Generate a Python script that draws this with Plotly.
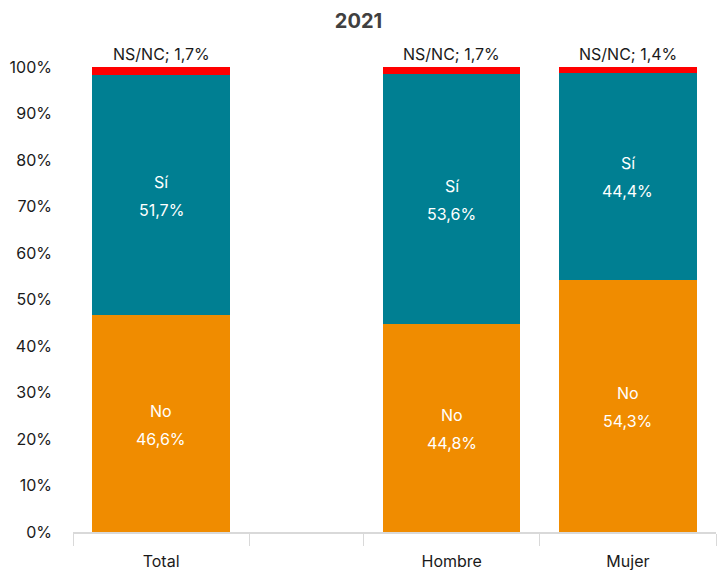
import plotly.graph_objects as go

# category layout: the empty spacer category between Total and Hombre is narrower
categories = ["Total", "Hombre", "Mujer"]
x_centers = [0.5, 2.15, 3.15]
x_bounds = [0, 1, 1.65, 2.65, 3.65]

no_vals = [46.6, 44.8, 54.3]
si_vals = [51.7, 53.6, 44.4]
nsnc_vals = [1.7, 1.7, 1.4]

font_family = "Inter, Roboto, sans-serif"
bar_width = 0.78


def pct(v):
    return f"{v:.1f}".replace(".", ",") + "%"


fig = go.Figure()

fig.add_trace(go.Bar(
    x=x_centers, y=no_vals, width=bar_width, name="No",
    marker=dict(color="#F08C00", line=dict(width=0)),
    textposition="none",
))
fig.add_trace(go.Bar(
    x=x_centers, y=si_vals, width=bar_width, name="Sí",
    marker=dict(color="#007F92", line=dict(width=0)),
    textposition="none",
))
fig.add_trace(go.Bar(
    x=x_centers, y=nsnc_vals, width=bar_width, name="NS/NC",
    marker=dict(color="#FF0000", line=dict(width=0)),
    textposition="none",
))

white = dict(size=16, color="white", family=font_family)
for xc, n, s, ns in zip(x_centers, no_vals, si_vals, nsnc_vals):
    # two-line labels in the middle of each segment, with wider line spacing
    for name, mid, val in (("No", n / 2, n), ("Sí", n + s / 2, s)):
        fig.add_annotation(x=xc, y=mid, xref="x", yref="y", text=name,
                           showarrow=False, yshift=13, font=white)
        fig.add_annotation(x=xc, y=mid, xref="x", yref="y", text=pct(val),
                           showarrow=False, yshift=-15, font=white)
    # NS/NC label above the bar (anchor kept inside the axis range)
    fig.add_annotation(
        x=xc, y=min(n + s + ns, 100), xref="x", yref="y",
        text="NS/NC; " + pct(ns),
        showarrow=False, yanchor="bottom", yshift=1,
        font=dict(size=16, color="#1a1a1a", family=font_family),
    )

fig.update_layout(
    barmode="stack",
    width=717, height=570,
    margin=dict(l=73, r=1, t=67, b=38, autoexpand=False),
    plot_bgcolor="white", paper_bgcolor="white",
    showlegend=False,
    font=dict(family=font_family, size=16, color="#1a1a1a"),
    title=dict(text="<b>2021</b>", x=0.5, xanchor="center", y=0.963, yanchor="middle",
               font=dict(size=20, color="#404040", family=font_family)),
)

fig.update_xaxes(
    range=[0, 3.65], automargin=False,
    tickmode="array", tickvals=x_centers, ticktext=categories,
    ticks="", ticklabelstandoff=14,
    showgrid=False, zeroline=False,
    showline=True, linecolor="#d9d9d9", linewidth=1.5,
    minor=dict(tickmode="array", tickvals=x_bounds, ticks="outside",
               ticklen=12, tickcolor="#d9d9d9", tickwidth=1, showgrid=False),
    tickfont=dict(size=16, color="#1a1a1a"),
)
fig.update_yaxes(
    range=[0, 100], automargin=False,
    tickmode="array", tickvals=list(range(0, 101, 10)),
    ticktext=[f"{v}%" for v in range(0, 101, 10)],
    showgrid=False, zeroline=False, showline=False,
    ticks="", ticklabelstandoff=20,
    tickfont=dict(size=16, color="#1a1a1a"),
)

fig.write_html("out.html", config=dict(displayModeBar=False),
               post_script="document.body.style.margin='0';")
